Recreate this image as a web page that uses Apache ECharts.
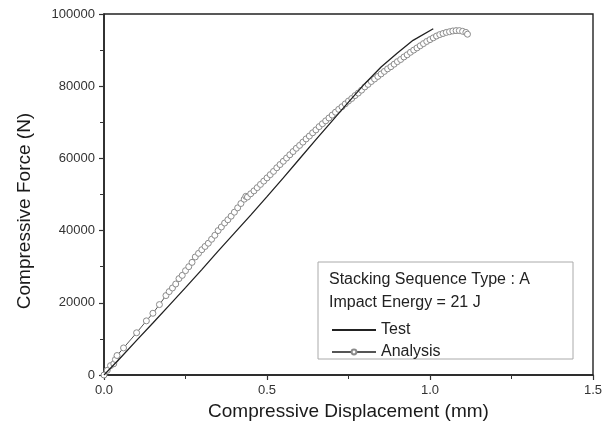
<!DOCTYPE html>
<html>
<head>
<meta charset="utf-8">
<script src="https://cdn.jsdelivr.net/npm/echarts@6/dist/echarts.min.js"></script>
<style>
  html, body { margin: 0; padding: 0; background: #fff; }
  #chart { width: 612px; height: 434px; }
</style>
</head>
<body>
<div id="chart"></div>
<script>
// values
const testX = [0, 0.05, 0.1, 0.15, 0.2, 0.25, 0.3, 0.35, 0.4, 0.45, 0.5, 0.55, 0.6, 0.65, 0.7, 0.75, 0.8, 0.85, 0.9, 0.948, 0.953, 0.96, 1.01];
const testY = [0, 4700, 9600, 14400, 19300, 24200, 29200, 34300, 39300, 44300, 49400, 54600, 59900, 65200, 70400, 75600, 80700, 85300, 89200, 92700, 92400, 93300, 95900];

const analysisX = [0, 0.01, 0.02, 0.03, 0.035, 0.04, 0.06, 0.1, 0.13, 0.15, 0.17, 0.19,
  0.2, 0.21, 0.22, 0.23, 0.24, 0.25, 0.26, 0.27, 0.28, 0.29,
  0.3, 0.31, 0.32, 0.33, 0.34, 0.35, 0.36, 0.37, 0.38, 0.39,
  0.4, 0.41, 0.42, 0.43, 0.435, 0.44, 0.45, 0.46, 0.47, 0.48, 0.49,
  0.5, 0.51, 0.52, 0.53, 0.54, 0.55, 0.56, 0.57, 0.58, 0.59,
  0.6, 0.61, 0.62, 0.63, 0.64, 0.65, 0.66, 0.67, 0.68, 0.69,
  0.7, 0.71, 0.72, 0.73, 0.74, 0.75, 0.76, 0.77, 0.78, 0.79,
  0.8, 0.81, 0.82, 0.83, 0.84, 0.85, 0.86, 0.87, 0.88, 0.89,
  0.9, 0.91, 0.92, 0.93, 0.94, 0.95, 0.96, 0.97, 0.98, 0.99,
  1.0, 1.01, 1.02, 1.03, 1.04, 1.05, 1.06, 1.07, 1.08, 1.09,
  1.1, 1.11, 1.115];
const analysisY = [0, 1300, 2600, 3100, 4300, 5400, 7500, 11700, 15000, 17100, 19500, 22000,
  23100, 24100, 25200, 26700, 27600, 28900, 30000, 31200, 32700, 33700,
  34700, 35600, 36500, 37600, 38700, 40000, 41000, 42100, 43000, 44000,
  45100, 46300, 47500, 48700, 49500, 49300, 50200, 51000, 51900, 52800, 53700,
  54600, 55500, 56400, 57400, 58300, 59200, 60100, 61000, 61900, 62800,
  63600, 64500, 65400, 66200, 67100, 67900, 68800, 69600, 70400, 71200,
  72000, 72800, 73600, 74300, 75100, 75900, 76600, 77400, 78100, 78900,
  79800, 80500, 81300, 82000, 82700, 83400, 84100, 84800, 85400, 86100,
  86800, 87400, 88100, 88700, 89400, 90000, 90600, 91200, 91800, 92400,
  92900, 93400, 93900, 94300, 94600, 94900, 95100, 95300, 95400, 95400,
  95200, 94900, 94400];

const xTicks = [0, 0.5, 1.0, 1.5];
const yTicks = [0, 20000, 40000, 60000, 80000, 100000];
const noteLines = ['Stacking Sequence Type : A', 'Impact Energy = 21 J'];

const chart = echarts.init(document.getElementById('chart'));

const font = 'Liberation Sans, Arial, sans-serif';

chart.setOption({
  animation: false,
  textStyle: { fontFamily: font },
  grid: {
    left: 104, right: 19, top: 14, bottom: 59,
    show: true, borderColor: '#222', borderWidth: 1.4
  },
  xAxis: {
    type: 'value',
    min: xTicks[0], max: xTicks[xTicks.length - 1], interval: 0.5,
    name: 'Compressive Displacement (mm)',
    nameLocation: 'middle', nameGap: 27,
    nameTextStyle: { fontSize: 19, color: '#1a1a1a', fontFamily: font },
    axisLine: { lineStyle: { color: '#222', width: 1.5 } },
    axisTick: { show: true, inside: false, length: 5, lineStyle: { color: '#333', width: 1.2 } },
    minorTick: { show: true, splitNumber: 2, length: 4, lineStyle: { color: '#333', width: 1 } },
    splitLine: { show: false },
    axisLabel: { fontSize: 13, color: '#333', margin: 9, formatter: v => v.toFixed(1) }
  },
  yAxis: {
    type: 'value',
    min: yTicks[0], max: yTicks[yTicks.length - 1], interval: 20000,
    axisLine: { show: true, lineStyle: { color: '#222', width: 1.5 } },
    axisTick: { show: true, inside: false, length: 5, lineStyle: { color: '#333', width: 1.2 } },
    minorTick: { show: true, splitNumber: 2, length: 4, lineStyle: { color: '#333', width: 1 } },
    splitLine: { show: false },
    axisLabel: { fontSize: 13, color: '#333', margin: 9, formatter: v => String(v) }
  },
  legend: {
    orient: 'vertical',
    left: 326, top: 317,
    itemWidth: 44, itemHeight: 6, itemGap: 6,
    textStyle: { fontSize: 16, color: '#222', fontFamily: font },
    data: [
      { name: 'Test', itemStyle: { opacity: 0 } },
      { name: 'Analysis' }
    ]
  },
  graphic: [
    {
      type: 'rect',
      shape: { x: 318, y: 262, width: 255, height: 97 },
      style: { fill: '#fff', stroke: '#aaa', lineWidth: 1 },
      z: 0
    },
    {
      type: 'text', x: 329, y: 280,
      style: { text: noteLines[0], fill: '#222', font: '16px ' + font, textVerticalAlign: 'middle' }
    },
    {
      type: 'text', x: 329, y: 303,
      style: { text: noteLines[1], fill: '#222', font: '16px ' + font, textVerticalAlign: 'middle' }
    },
    {
      type: 'text', x: 25, y: 211, rotation: Math.PI / 2,
      style: { text: 'Compressive Force (N)', font: '19px ' + font, fill: '#1a1a1a', textAlign: 'center', textVerticalAlign: 'middle' }
    }
  ],
  series: [
    {
      name: 'Test',
      type: 'line',
      data: testX.map((x, i) => [x, testY[i]]),
      showSymbol: false,
      symbol: 'none',
      lineStyle: { color: '#222', width: 1.3 },
      itemStyle: { color: '#222' },
      z: 3
    },
    {
      name: 'Analysis',
      type: 'line',
      data: analysisX.map((x, i) => [x, analysisY[i]]),
      symbol: 'circle',
      symbolSize: 6,
      lineStyle: { color: '#555', width: 1 },
      itemStyle: { color: '#fff', borderColor: '#8a8a8a', borderWidth: 1 },
      z: 2
    }
  ]
});
</script>
</body>
</html>
